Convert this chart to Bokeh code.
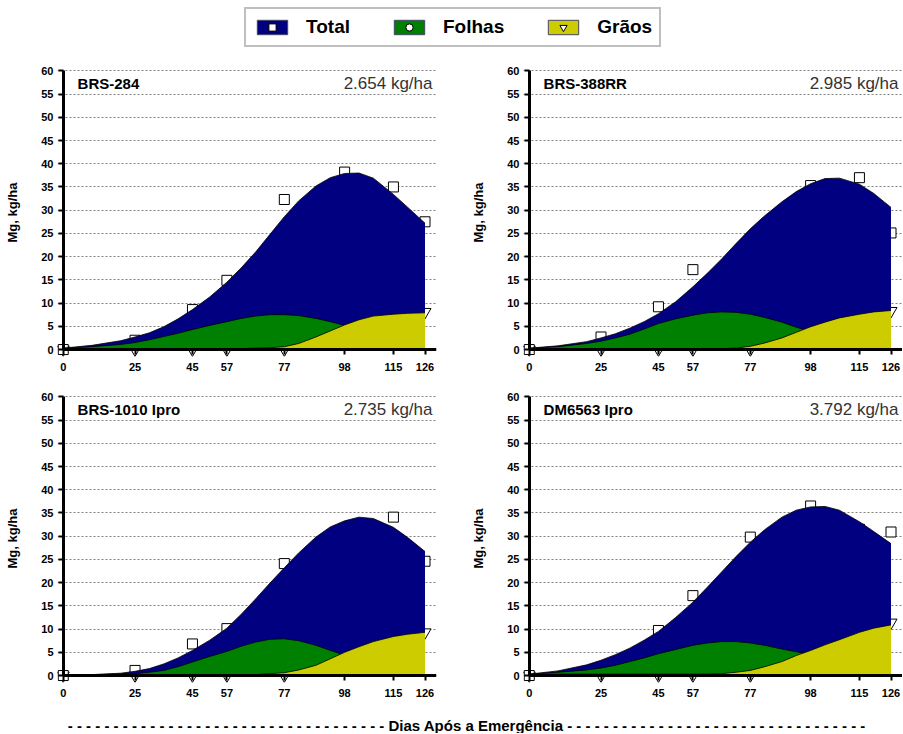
from bokeh.plotting import figure
from bokeh.layouts import column, row
from bokeh.models import Range1d, FixedTicker, Label, Legend, LegendItem, LinearAxis
from bokeh.embed import file_html
from bokeh.resources import INLINE

FONT = "Liberation Sans"
NAVY = "#000080"
GREEN = "#008000"
YELLOW = "#CCCC00"

# ---- data -------------------------------------------------------------
days = [0, 25, 45, 57, 77, 98, 115, 126]
days_folhas = [0, 25, 45, 57, 77, 98, 115]
y_ticks = [0, 5, 10, 15, 20, 25, 30, 35, 40, 45, 50, 55, 60]
curve_days = [0, 10, 20, 25, 30, 35, 40, 45, 51, 57, 62, 67, 72, 77, 82, 88, 93, 98, 103, 108, 115, 120, 126]

cultivars = ["BRS-284", "BRS-388RR", "BRS-1010 Ipro", "DM6563 Ipro"]
yields = ["2.654 kg/ha", "2.985 kg/ha", "2.735 kg/ha", "3.792 kg/ha"]

# observed points (Mg, kg/ha)
total_brs284 = [0, 2.0, 8.6, 14.9, 32.3, 38.2, 35.0, 27.5]
folhas_brs284 = [0, 1.2, 4.0, 5.8, 7.2, 4.8, 2.6]
graos_brs284 = [0, 0, 0, 0, 0, 5.5, 7.8, 8.1]

total_brs388 = [0, 2.7, 9.2, 17.2, 23.5, 35.3, 37.0, 25.1]
folhas_brs388 = [0, 1.6, 5.2, 7.0, 7.5, 4.5, 2.5]
graos_brs388 = [0, 0, 0, 0, 0, 4.8, 7.5, 8.3]

total_brs1010 = [0, 1.1, 6.8, 10.1, 24.1, 30.5, 34.1, 24.6]
folhas_brs1010 = [0, 0.4, 2.7, 5.0, 7.6, 4.5, 2.3]
graos_brs1010 = [0, 0, 0, 0, 0, 5.0, 8.4, 9.3]

total_dm6563 = [0, 1.8, 9.7, 17.2, 29.8, 36.5, 31.5, 30.9]
folhas_dm6563 = [0, 1.0, 4.5, 6.3, 6.8, 4.7, 2.8]
graos_dm6563 = [0, 0, 0, 0, 0, 5.3, 9.0, 11.4]

# fitted curves, at curve_days
total_curve_brs284 = [0.3, 0.9, 1.9, 2.7, 3.6, 4.9, 6.6, 8.6, 11.3, 14.5, 17.6, 21.0, 24.8, 28.6, 32.0, 35.2, 37.0, 37.9, 38.0, 36.9, 33.4, 30.6, 27.2]
folhas_curve_brs284 = [0.3, 0.6, 1.1, 1.5, 2.1, 2.8, 3.5, 4.3, 5.2, 6.0, 6.7, 7.2, 7.5, 7.5, 7.3, 6.7, 6.0, 5.2, 4.4, 3.6, 2.8, 2.3, 2.0]
graos_curve_brs284 = [0.2, 0.2, 0.2, 0.2, 0.2, 0.2, 0.2, 0.2, 0.2, 0.2, 0.2, 0.3, 0.4, 0.6, 1.3, 2.7, 4.0, 5.3, 6.4, 7.2, 7.6, 7.8, 7.9]

total_curve_brs388 = [0.3, 0.8, 1.7, 2.5, 3.4, 4.6, 6.0, 7.7, 10.3, 13.5, 16.4, 19.5, 22.8, 26.0, 28.8, 31.8, 34.0, 35.7, 36.8, 36.9, 35.6, 33.6, 30.6]
folhas_curve_brs388 = [0.3, 0.6, 1.3, 1.8, 2.5, 3.3, 4.4, 5.6, 6.6, 7.4, 7.9, 8.1, 8.0, 7.6, 6.9, 5.9, 4.8, 3.9, 3.2, 2.7, 2.3, 2.1, 2.0]
graos_curve_brs388 = [0.2, 0.2, 0.2, 0.2, 0.2, 0.2, 0.2, 0.2, 0.2, 0.2, 0.2, 0.2, 0.3, 0.7, 1.4, 2.5, 3.7, 4.9, 5.9, 6.8, 7.6, 8.1, 8.4]

total_curve_brs1010 = [0.2, 0.2, 0.5, 0.9, 1.5, 2.5, 3.8, 5.4, 7.6, 10.2, 13.2, 16.5, 19.9, 23.2, 26.4, 29.8, 32.0, 33.3, 34.1, 33.8, 31.9, 29.7, 26.7]
folhas_curve_brs1010 = [0.2, 0.2, 0.3, 0.4, 0.7, 1.1, 1.9, 2.9, 4.1, 5.2, 6.3, 7.2, 7.8, 7.9, 7.5, 6.5, 5.4, 4.4, 3.6, 3.0, 2.4, 2.1, 2.0]
graos_curve_brs1010 = [0.2, 0.2, 0.2, 0.2, 0.2, 0.2, 0.2, 0.2, 0.2, 0.2, 0.2, 0.2, 0.4, 0.6, 1.2, 2.2, 3.6, 5.0, 6.2, 7.3, 8.4, 8.9, 9.3]

total_curve_dm6563 = [0.3, 1.0, 2.3, 3.3, 4.5, 5.9, 7.6, 9.5, 12.5, 15.8, 19.0, 22.3, 25.6, 28.7, 31.4, 34.1, 35.6, 36.3, 36.4, 35.6, 33.1, 31.0, 28.4]
folhas_curve_dm6563 = [0.3, 0.7, 1.2, 1.6, 2.2, 3.0, 3.8, 4.7, 5.6, 6.5, 7.0, 7.3, 7.3, 7.0, 6.5, 5.7, 5.1, 4.6, 4.0, 3.5, 3.0, 2.7, 2.5]
graos_curve_dm6563 = [0.3, 0.3, 0.3, 0.3, 0.3, 0.3, 0.3, 0.3, 0.3, 0.3, 0.3, 0.4, 0.7, 1.1, 1.9, 3.0, 4.3, 5.4, 6.6, 7.7, 9.3, 10.2, 10.9]

legend_labels = ["Total", "Folhas", "Grãos"]
x_title = "Dias Após a Emergência"
y_title = "Mg, kg/ha"

panels = [
    (cultivars[0], yields[0], total_brs284, folhas_brs284, graos_brs284,
     total_curve_brs284, folhas_curve_brs284, graos_curve_brs284),
    (cultivars[1], yields[1], total_brs388, folhas_brs388, graos_brs388,
     total_curve_brs388, folhas_curve_brs388, graos_curve_brs388),
    (cultivars[2], yields[2], total_brs1010, folhas_brs1010, graos_brs1010,
     total_curve_brs1010, folhas_curve_brs1010, graos_curve_brs1010),
    (cultivars[3], yields[3], total_dm6563, folhas_dm6563, graos_dm6563,
     total_curve_dm6563, folhas_curve_dm6563, graos_curve_dm6563),
]


def make_panel(spec, border_right):
    name, yld, tot, fol, gra, tot_c, fol_c, gra_c = spec
    p = figure(frame_width=379, frame_height=288,
               x_range=Range1d(-2, 130), y_range=Range1d(-1.5, 60.5),
               min_border_left=57, min_border_right=border_right,
               min_border_top=13, min_border_bottom=25,
               output_backend="svg", toolbar_location=None)
    p.outline_line_color = None
    p.background_fill_color = "white"
    p.border_fill_color = "white"

    # points (behind the areas)
    p.scatter(days_folhas, fol, marker="circle", size=9, fill_color="white", line_color="black", line_width=1)
    p.scatter(days, gra, marker="inverted_triangle", size=12, fill_color="white", line_color="black", line_width=1)
    p.scatter(days, tot, marker="square", size=10, fill_color="white", line_color="black", line_width=1)

    # fitted areas
    for curve, col in ((tot_c, NAVY), (fol_c, GREEN), (gra_c, YELLOW)):
        p.varea(x=curve_days, y1=[0] * len(curve), y2=curve, fill_color=col)
        p.line(curve_days, curve, line_color="black", line_width=0.8)

    # label axes (side panels): only tick labels and title
    xa = p.xaxis[0]
    ya = p.yaxis[0]
    xa.ticker = FixedTicker(ticks=days)
    ya.ticker = FixedTicker(ticks=y_ticks)
    for ax in (xa, ya):
        ax.axis_line_color = None
        ax.major_tick_line_color = None
        ax.minor_tick_line_color = None
        ax.major_tick_out = 0
        ax.major_tick_in = 0
        ax.major_label_text_font = FONT
        ax.major_label_text_font_style = "bold"
        ax.major_label_text_font_size = "11px"
        ax.major_label_text_color = "black"
    xa.major_label_standoff = 6
    ya.major_label_standoff = 4
    ya.axis_label = y_title
    ya.axis_label_text_font = FONT
    ya.axis_label_text_font_style = "bold"
    ya.axis_label_text_font_size = "13px"
    ya.axis_label_text_color = "black"
    ya.axis_label_standoff = 18

    # axis lines and ticks through the origin
    lx = LinearAxis(fixed_location=0, ticker=FixedTicker(ticks=days), bounds=(0, 130),
                    major_label_overrides={d: "" for d in days})
    ly = LinearAxis(fixed_location=0, ticker=FixedTicker(ticks=y_ticks), bounds=(0, 60),
                    major_label_overrides={t: "" for t in y_ticks})
    for ax in (lx, ly):
        ax.axis_line_width = 3
        ax.axis_line_color = "black"
        ax.major_tick_line_width = 2
        ax.major_tick_line_color = "black"
        ax.major_tick_out = 5
        ax.major_tick_in = 0
        ax.minor_tick_line_color = None
    p.add_layout(lx, "below")
    p.add_layout(ly, "left")

    p.xgrid.grid_line_color = None
    p.ygrid.ticker = FixedTicker(ticks=y_ticks)
    p.ygrid.grid_line_color = "#808080"
    p.ygrid.grid_line_dash = "2 2"
    p.ygrid.grid_line_width = 1

    p.add_layout(Label(x=5, y=57.2, text=name, text_font=FONT, text_font_style="bold",
                       text_font_size="15px", text_color="black", text_baseline="middle"))
    p.add_layout(Label(x=128.6, y=57.2, text=yld, text_font=FONT, text_font_style="normal",
                       text_font_size="17px", text_color="#333333", text_baseline="middle",
                       text_align="right"))
    return p


p1 = make_panel(panels[0], 30)
p2 = make_panel(panels[1], 0)
p3 = make_panel(panels[2], 30)
p4 = make_panel(panels[3], 0)

# ---- legend figure ---------------------------------------------------
lf = figure(width=902, height=55, x_range=Range1d(0, 1), y_range=Range1d(0, 1),
            x_axis_type=None, y_axis_type=None, min_border=0,
            output_backend="svg", toolbar_location=None)
lf.outline_line_color = None
lf.xgrid.grid_line_color = None
lf.ygrid.grid_line_color = None
items = []
for lab, col, mk in zip(legend_labels, (NAVY, GREEN, YELLOW), ("square", "circle", "inverted_triangle")):
    r1 = lf.rect(x=[-10], y=[-10], width=1, height=1, fill_color=col, line_color="#444466", line_width=1)
    r2 = lf.scatter(x=[-10], y=[-10], marker=mk, size=9, fill_color="white", line_color="black", line_width=1)
    items.append(LegendItem(label=lab, renderers=[r1, r2]))
leg = Legend(items=items, location=(244, 8), orientation="horizontal",
             glyph_width=38, glyph_height=18, label_standoff=15,
             label_height=18, spacing=40, padding=7, margin=0,
             label_text_font=FONT, label_text_font_style="bold", label_text_font_size="19px",
             label_text_color="black",
             border_line_color="#808080", border_line_width=2, background_fill_alpha=1)
lf.add_layout(leg, "center")

# ---- bottom title figure -------------------------------------------------
bf = figure(width=902, height=26, x_range=Range1d(0, 1), y_range=Range1d(0, 1),
            x_axis_type=None, y_axis_type=None, min_border=0,
            output_backend="svg", toolbar_location=None)
bf.outline_line_color = None
bf.xgrid.grid_line_color = None
bf.ygrid.grid_line_color = None
bottom_text = "- " * 35 + x_title + " -" * 33
bf.add_layout(Label(x=0.517, y=0.3, text=bottom_text, text_font=FONT, text_font_style="bold",
                    text_font_size="15px", text_color="black", text_align="center",
                    text_baseline="middle"))

layout = column(lf, row(p1, p2), row(p3, p4), bf)
open("out.html", "w").write(file_html(layout, INLINE))
